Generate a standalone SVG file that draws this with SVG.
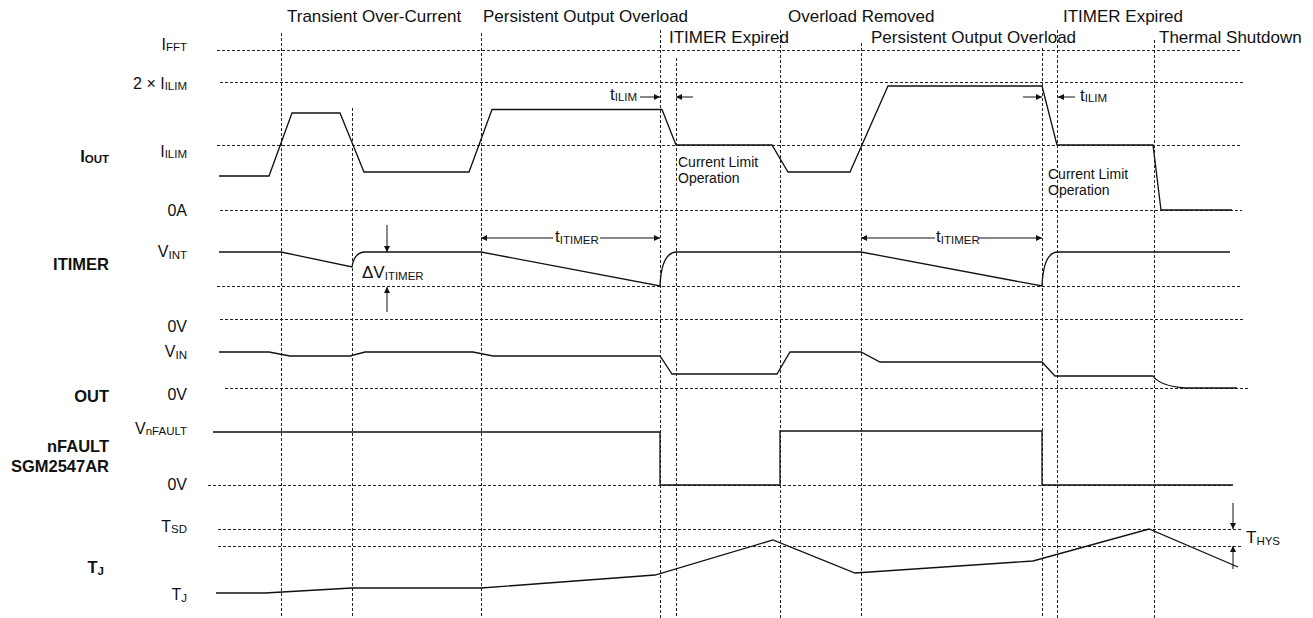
<svg xmlns="http://www.w3.org/2000/svg" width="1313" height="618" viewBox="0 0 1313 618">
<style>
text{font-family:"Liberation Sans",Arial,sans-serif;fill:#111}
.t{font-size:17px}
.ax{font-size:16px;text-anchor:end}
.b{font-size:16.5px;font-weight:bold;text-anchor:end}
.s{font-size:11.5px}
.sm{font-size:14px}
.g{stroke:#222;stroke-width:1;stroke-dasharray:3,2;fill:none}
.w{stroke:#111;stroke-width:1.3;fill:none}
.a{stroke:#111;stroke-width:1;fill:none}
</style>
<defs>
<marker id="ah" viewBox="0 0 10 10" refX="10" refY="5" markerWidth="9" markerHeight="6" markerUnits="userSpaceOnUse" orient="auto"><path d="M0,0L10,5L0,10z" fill="#111"/></marker>
</defs>
<rect width="1313" height="618" fill="#fff"/>
<g id="grid">
<path class="g" d="M217,50.5H1242M220,82.5H1245M217,145.5H1242M220,210.5H1242M217,286.5H1242M220,319.5H1245M225,388.5H1249M208,485.5H1233M218,529.5H1243M218,546.5H1243"/>
<path class="g" d="M281.5,33V618M352.5,108V618M481.5,33V618M660.5,30V618M676.5,58V618M780.5,30V618M861.5,43V618M1042.5,48V618M1057.5,30V618M1154.5,40V618"/>
</g>
<g id="top-labels">
<text class="t" x="287" y="22">Transient Over-Current</text>
<text class="t" x="483" y="22">Persistent Output Overload</text>
<text class="t" x="788" y="22">Overload Removed</text>
<text class="t" x="1063" y="22">ITIMER Expired</text>
<text class="t" x="669" y="43">ITIMER Expired</text>
<text class="t" x="871" y="43">Persistent Output Overload</text>
<text class="t" x="1159" y="43">Thermal Shutdown</text>
</g>
<g id="axis-labels">
<text class="ax" x="187" y="50">I<tspan class="s" dy="1">FFT</tspan></text>
<text class="ax" x="187" y="89">2 × I<tspan class="s" dy="1">ILIM</tspan></text>
<text class="ax" x="187" y="157">I<tspan class="s" dy="1">ILIM</tspan></text>
<text class="ax" x="187" y="216">0A</text>
<text class="ax" x="187" y="257">V<tspan class="s" dy="2">INT</tspan></text>
<text class="ax" x="187" y="332">0V</text>
<text class="ax" x="187" y="357">V<tspan class="s" dy="2">IN</tspan></text>
<text class="ax" x="187" y="400">0V</text>
<text class="ax" x="187" y="434">V<tspan class="s" dy="1">nFAULT</tspan></text>
<text class="ax" x="187" y="490">0V</text>
<text class="ax" x="187" y="532">T<tspan class="s" dy="1">SD</tspan></text>
<text class="ax" x="187" y="600">T<tspan class="s" dy="2">J</tspan></text>
</g>
<g id="signal-names">
<text class="b" x="109" y="162">I<tspan class="s" dy="1">OUT</tspan></text>
<text class="b" x="109" y="270">ITIMER</text>
<text class="b" x="109" y="402">OUT</text>
<text class="b" x="109" y="452">nFAULT</text>
<text class="b" x="109" y="472">SGM2547AR</text>
<text class="b" x="104" y="573">T<tspan class="s" dy="2">J</tspan></text>
</g>
<g id="iout">
<path class="w" d="M219,176H269L292,113H340L364,172H469L492,109.5H662L676,145H772L788,172H850L888,86H1042L1057,145H1153L1161,210H1232"/>
<text class="sm" x="678" y="167">Current Limit</text>
<text class="sm" x="678" y="183">Operation</text>
<text class="sm" x="1048" y="179">Current Limit</text>
<text class="sm" x="1048" y="195">Operation</text>
</g>
<g id="itimer">
<path class="w" d="M219,252H281L352,267Q354,253 364,252H481L660,286C661,262 667,252 677,252H861L1042,286C1043,262 1049,252 1058,252H1230"/>
<text class="t" x="362" y="278">ΔV<tspan class="s" dy="2">ITIMER</tspan></text>
</g>
<g id="out">
<path class="w" d="M219,352H269L290,356H350L365,352H473L493,356H660L672,374H777L790,352H861L880,362H1042L1055,376H1153Q1160,386 1185,388H1237"/>
</g>
<g id="nfault">
<path class="w" d="M213,432H660V485H780V431H1042V485H1233"/>
</g>
<g id="tj">
<path class="w" d="M216,593H265L352,588H481L655,575L773,540L855,573L1033,561L1149,529L1238,567"/>
</g>
<g id="connectors">
<path class="a" marker-end="url(#ah)" d="M387,225V252"/>
<path class="a" marker-end="url(#ah)" d="M387,312V287"/>
<path class="a" marker-end="url(#ah)" d="M553,238H481"/>
<path class="a" marker-end="url(#ah)" d="M600,238H660"/>
<path class="a" marker-end="url(#ah)" d="M935,238H861"/>
<path class="a" marker-end="url(#ah)" d="M979,238H1042"/>
<path class="a" marker-end="url(#ah)" d="M640,97H660"/>
<path class="a" marker-end="url(#ah)" d="M693,97H676"/>
<path class="a" marker-end="url(#ah)" d="M1023,97H1042"/>
<path class="a" marker-end="url(#ah)" d="M1075,97H1058"/>
<path class="a" marker-end="url(#ah)" d="M1233,503V529"/>
<path class="a" marker-end="url(#ah)" d="M1233,569V546"/>
<text class="t" x="555" y="242">t<tspan class="s" dy="2">ITIMER</tspan></text>
<text class="t" x="936" y="242">t<tspan class="s" dy="2">ITIMER</tspan></text>
<text class="t" x="610" y="100">t<tspan class="s" dy="1">ILIM</tspan></text>
<text class="t" x="1080" y="101">t<tspan class="s" dy="1">ILIM</tspan></text>
<text class="t" x="1246" y="543">T<tspan class="s" dy="2">HYS</tspan></text>
</g>
</svg>
